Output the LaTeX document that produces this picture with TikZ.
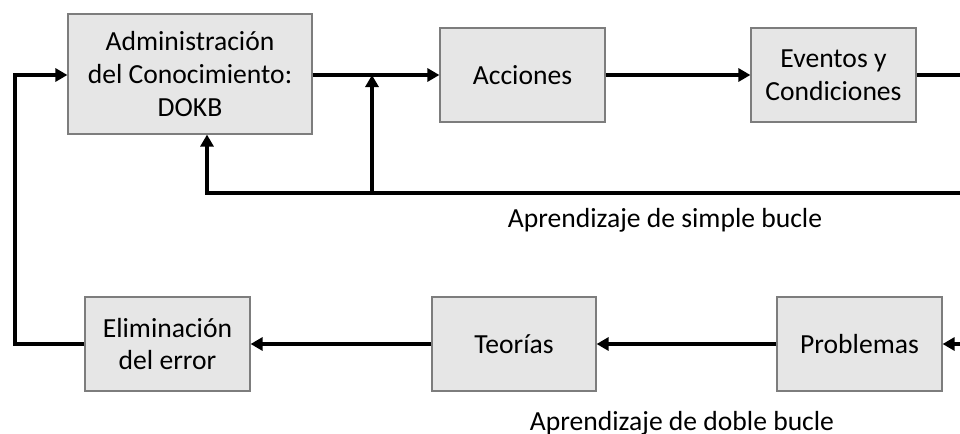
\documentclass[tikz,border=0pt]{standalone}
\usepackage{fontspec}
\setmainfont{Carlito}
\usepackage{xcolor}
\usepackage{tikz}
\usetikzlibrary{calc}
\usetikzlibrary{arrows.meta}

\definecolor{boxfill}{RGB}{230,230,230}
\definecolor{boxline}{RGB}{125,125,125}

\begin{document}
\begin{tikzpicture}[x=0.5pt,y=-0.5pt]
% 1 = 1px of the target
    \def\YTOP{75}
    \def\YLOOP{193}
    \def\YLOW{344}
    \def\XLEFT{15}
    \def\XJOIN{372}
    \def\XRIGHT{960}

    \tikzset{
      block/.style={draw=boxline,line width=0.6pt,fill=boxfill,
        align=center,inner sep=2pt,
        font=\fontsize{13.8}{16.3}\selectfont},
      flow/.style={-{Triangle[width=6.5pt,length=6pt]},line width=2pt},
      plain/.style={line width=2pt},
      caption/.style={anchor=base,font=\fontsize{13.8}{16.3}\selectfont},
    }

    \useasboundingbox (0,0) rectangle (960,434);

    % FIRST ROW
    \node [block,minimum width=122pt,minimum height=60pt] (admin) at (190,74)
        {Administración\\del Conocimiento:\\DOKB};
    \node [block,minimum width=82.5pt,minimum height=47pt] (acc) at (522.5,75)
        {Acciones};
    \node [block,minimum width=82.5pt,minimum height=47pt] (evt) at (833.5,75)
        {Eventos y\\Condiciones};

    % SECOND ROW
    \node [block,minimum width=82.5pt,minimum height=47pt] (elim) at (167.5,344)
        {Eliminación\\del error};
    \node [block,minimum width=82pt,minimum height=47pt] (teo) at (514,344)
        {Teorías};
    \node [block,minimum width=82.5pt,minimum height=47pt] (prob) at (859.5,344)
        {Problemas};

    % loose ends at the border
    \coordinate (evtR) at (\XRIGHT,\YTOP);
    \coordinate (loopR) at (\XRIGHT,\YLOOP);
    \coordinate (loopL) at (207,\YLOOP);
    \coordinate (join) at (\XJOIN,\YLOOP);
    \coordinate (probR) at (\XRIGHT,\YLOW);
    \coordinate (backL) at (\XLEFT,\YLOW);

    % SINGLE LOOP
    \draw [flow] (admin.east |- 0,\YTOP) -- (acc.west |- 0,\YTOP);
    \draw [flow] (acc) -- (evt);
    \draw [plain] (evt) -- (evtR);
    \draw [flow] (loopR) -- (loopL) -- (loopL |- admin.south);
    \draw [flow] (join) -- (join |- 0,\YTOP);

    \node [caption] (simple) at (665,227) {Aprendizaje de simple bucle};

    % DOUBLE LOOP
    \draw [flow] (probR) -- (prob);
    \draw [flow] (prob) -- (teo);
    \draw [flow] (teo) -- (elim);
    \draw [flow] (elim) -- (backL) |- (admin.west |- 0,\YTOP);

    \node [caption] (doble) at (682,430) {Aprendizaje de doble bucle};

\end{tikzpicture}
\end{document}
